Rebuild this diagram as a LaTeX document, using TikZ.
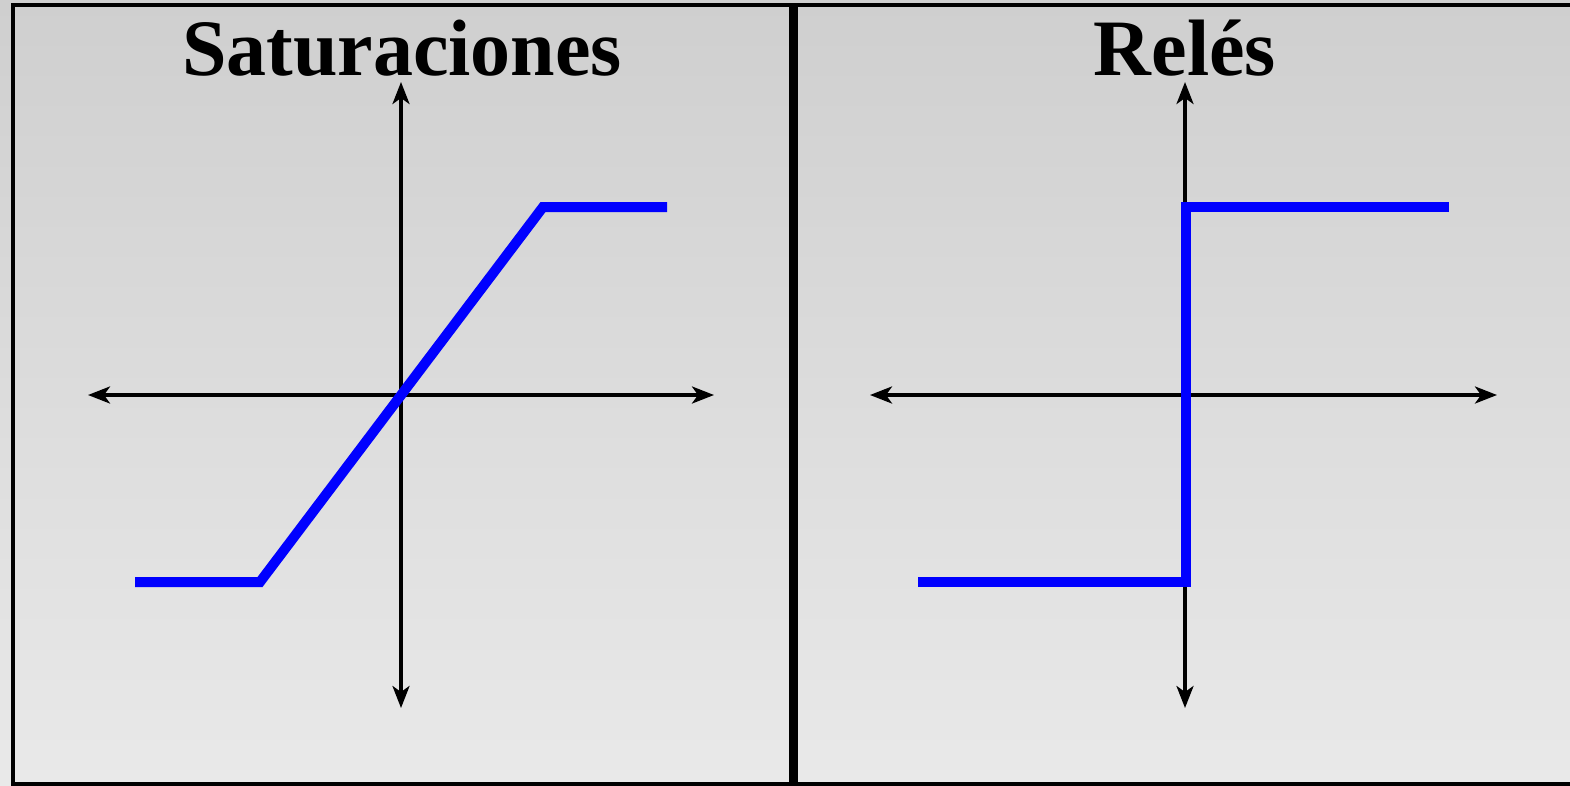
\documentclass[tikz,border=0pt]{standalone}
\usepackage{fontspec}
\setmainfont{Liberation Serif}
\usetikzlibrary{arrows.meta, positioning}
\definecolor{cTop}{RGB}{207,207,207}
\definecolor{cBot}{RGB}{233,233,233}
\definecolor{cCurve}{RGB}{0,0,255}

\begin{document}
\begin{tikzpicture}[x=1pt, y=-1pt,
      axis/.style={line width=3.5pt,
                   {Stealth[length=22pt,width=17pt,inset=6pt]}-{Stealth[length=22pt,width=17pt,inset=6pt]}},
      curve/.style={line width=10pt, cCurve, line join=miter},
      ttl/.style={font=\bfseries\fontsize{80}{80}\selectfont, inner sep=0pt, anchor=base}]
    \useasboundingbox (0,0) rectangle (1570,785);
    \shade[top color=cTop, bottom color=cBot] (0,0) rectangle (1570,785);
    \draw[line width=4pt] (13,5) rectangle (1590,784);
    \draw[line width=9pt] (793.5,5) -- (793.5,784);
    % saturaciones
    \node[ttl] (tsat) at (402,75) {Saturaciones};
    \coordinate (sw) at (88,395);  \coordinate (se) at (714,395);
    \coordinate (sn) at (401,82);  \coordinate (ss) at (401,708);
    \draw[axis] (sw) -- (se);
    \draw[axis] (sn) -- (ss);
    \coordinate (s1) at (135,582); \coordinate (s2) at (260,582);
    \coordinate (s3) at (543,207); \coordinate (s4) at (667,207);
    \draw[curve] (s1) -- (s2) -- (s3) -- (s4);
    % reles
    \node[ttl] (trel) at (1185,75) {Relés};
    \coordinate (rw) at (870,395);  \coordinate (re) at (1497,395);
    \coordinate (rn) at (1185,82);  \coordinate (rs) at (1185,708);
    \draw[axis] (rw) -- (re);
    \draw[axis] (rn) -- (rs);
    \coordinate (r1) at (918,582);  \coordinate (r2) at (1185.5,582);
    \coordinate (r3) at (1185.5,207); \coordinate (r4) at (1449,207);
    \draw[curve] (r1) -- (r2) -- (r3) -- (r4);
  \end{tikzpicture}
\end{document}
